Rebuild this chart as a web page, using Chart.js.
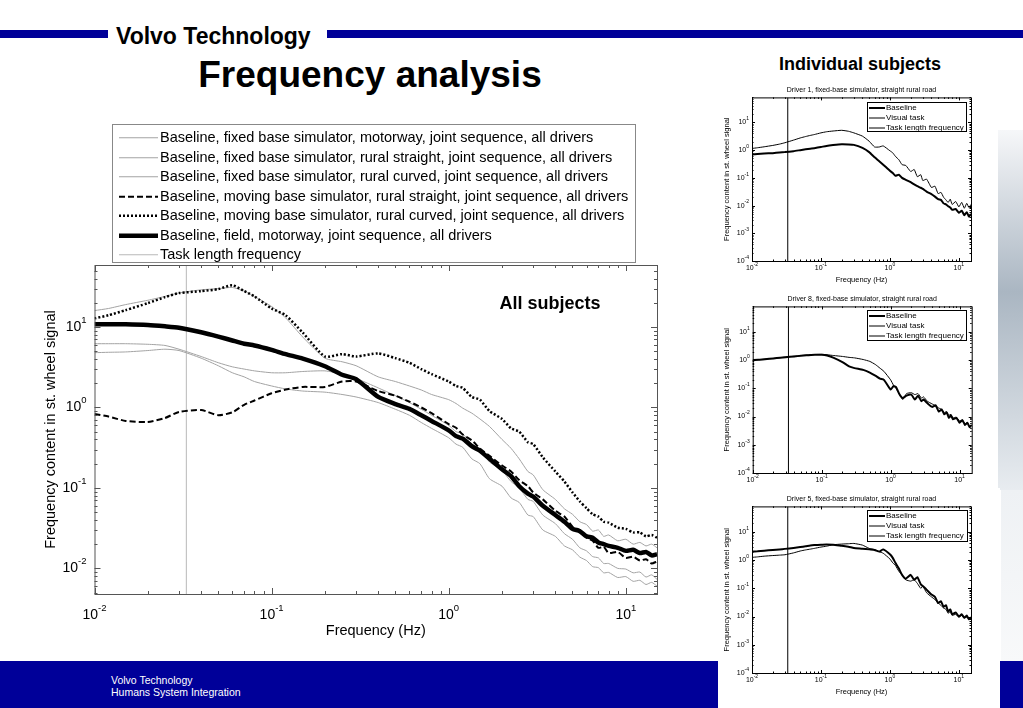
<!DOCTYPE html>
<html>
<head>
<meta charset="utf-8">
<script src="https://cdn.jsdelivr.net/npm/chart.js@4.4.0/dist/chart.umd.min.js"></script>
<style>
body { margin:0; width:1023px; height:708px; position:relative; overflow:hidden; background:#fff; font-family:"Liberation Sans", Arial, sans-serif; }
.abs { position:absolute; }
canvas { position:absolute; }
.legend { position:absolute; background:#fff; box-sizing:border-box; will-change:transform; }
.legend .row { position:relative; white-space:nowrap; }
.legend svg { position:absolute; }
</style>
</head>
<body>
<!-- header -->
<div class="abs" style="left:0;top:30px;width:108px;height:8px;background:#000099"></div>
<div class="abs" style="left:327px;top:30px;width:696px;height:8px;background:#000099"></div>
<div class="abs" style="left:116px;top:25px;font-size:23px;line-height:23px;font-weight:bold;">Volvo Technology</div>
<div class="abs" style="left:170px;top:56px;width:400px;text-align:center;font-size:37px;line-height:37px;font-weight:bold;">Frequency analysis</div>
<div class="abs" style="left:760px;top:55px;width:200px;text-align:center;font-size:18px;line-height:18px;font-weight:bold;">Individual subjects</div>

<!-- right decoration -->
<div class="abs" style="left:998px;top:130px;width:25px;height:360px;background:linear-gradient(to bottom,#f6f7f9 0%,#aab6c2 45%,#e8ecf0 100%)"></div>
<div class="abs" style="left:1001px;top:490px;width:22px;height:172px;background:linear-gradient(to bottom,#eef1f4 0%,#f8f9fa 100%)"></div>

<!-- footer -->
<div class="abs" style="left:0;top:661px;width:1023px;height:47px;background:#000099"></div>
<div class="abs" style="left:111px;top:674px;color:#fff;font-size:10.5px;line-height:12px;">Volvo Technology<br>Humans System Integration</div>

<!-- main chart -->
<canvas id="mainChart" width="635" height="395" style="left:30px;top:255px"></canvas>
<div id="mainLegend" class="legend" style="left:112px;top:124px;width:524px;height:139px;border:1px solid #888;padding-top:3px;"></div>
<div class="abs" style="left:480px;top:294px;width:140px;text-align:center;font-size:18px;line-height:18px;font-weight:bold;">All subjects</div>

<!-- individual charts -->
<div class="abs" style="left:718px;top:78px;width:262px;height:210px;background:#fff"></div>
<canvas id="driver1" width="256" height="204" style="left:720px;top:82px"></canvas>
<div id="legend1" class="legend" style="left:867px;top:102px;width:100px;height:30px;border:1.5px solid #000;"></div>

<div class="abs" style="left:718px;top:288px;width:262px;height:200px;background:#fff"></div>
<canvas id="driver8" width="256" height="207" style="left:720px;top:291px"></canvas>
<div id="legend2" class="legend" style="left:867px;top:310px;width:100px;height:31px;border:1.5px solid #000;"></div>

<div class="abs" style="left:718px;top:488px;width:282px;height:220px;background:#fff"></div>
<canvas id="driver5" width="256" height="207" style="left:720px;top:491px"></canvas>
<div id="legend3" class="legend" style="left:867px;top:510px;width:101px;height:32px;border:1.5px solid #000;"></div>

<script>
// frequency grid (Hz)
const freqs = [0.01, 0.012, 0.015, 0.02, 0.025, 0.03, 0.04, 0.05, 0.06, 0.07, 0.08, 0.1,
  0.12, 0.15, 0.2, 0.25, 0.3, 0.4, 0.5, 0.6, 0.7, 0.8,
  1, 1.1, 1.2, 1.35, 1.5, 1.7, 2, 2.25, 2.5, 2.8, 3, 3.4,
  4, 4.5, 5, 5.5, 6, 6.5, 7, 7.5, 8, 9, 10, 11, 12, 13, 14, 15];

// all subjects
const mainLabels = [
  'Baseline, fixed base simulator, motorway, joint sequence, all drivers',
  'Baseline, fixed base simulator, rural straight, joint sequence, all drivers',
  'Baseline, fixed base simulator, rural curved, joint sequence, all drivers',
  'Baseline, moving base simulator, rural straight, joint sequence, all drivers',
  'Baseline, moving base simulator, rural curved, joint sequence, all drivers',
  'Baseline, field, motorway, joint sequence, all drivers',
  'Task length frequency'
];
const fixedMotorway = [16, 17, 19, 21.5, 24, 26.5, 29, 30, 31, 28, 24, 18,
  13, 7.5, 4.1, 3.7, 3.3, 2.4, 2.1, 1.85, 1.65, 1.45,
  1.25, 1.12, 0.98, 0.85, 0.72, 0.58, 0.4, 0.31, 0.23, 0.16, 0.145, 0.095,
  0.072, 0.055, 0.047, 0.038, 0.035, 0.029, 0.03, 0.025, 0.026, 0.022, 0.023, 0.02, 0.021, 0.019, 0.02, 0.018];
const fixedStraight = [6.2, 6.2, 6.2, 6.1, 5.9, 5.3, 4.3, 3.6, 3.2, 3.0, 2.85, 2.7,
  2.7, 2.8, 2.85, 2.6, 2.3, 1.75, 1.4, 1.15, 0.95, 0.8,
  0.6, 0.5, 0.47, 0.35, 0.31, 0.21, 0.165, 0.12, 0.1, 0.072, 0.068, 0.046,
  0.036, 0.027, 0.023, 0.018, 0.0165, 0.014, 0.0135, 0.0115, 0.0115, 0.01, 0.0098, 0.0088, 0.009, 0.0078, 0.0083, 0.0073];
const fixedCurved = [4.8, 4.85, 4.9, 5.1, 5.3, 5.1, 4.1, 3.3, 2.7, 2.4, 2.1, 1.85,
  1.7, 1.6, 1.55, 1.45, 1.35, 1.15, 0.95, 0.8, 0.65, 0.55,
  0.42, 0.35, 0.32, 0.23, 0.2, 0.13, 0.105, 0.075, 0.066, 0.046, 0.044, 0.03,
  0.025, 0.019, 0.017, 0.0138, 0.0125, 0.0105, 0.0102, 0.0088, 0.0089, 0.0077, 0.0079, 0.0069, 0.0071, 0.0063, 0.0067, 0.006];
const movingStraight = [0.83, 0.77, 0.68, 0.66, 0.74, 0.88, 0.93, 0.80, 0.87, 1.08, 1.22, 1.5,
  1.67, 1.8, 1.8, 2.1, 2.1, 1.6, 1.4, 1.18, 1.0, 0.85,
  0.62, 0.56, 0.46, 0.39, 0.31, 0.25, 0.19, 0.16, 0.125, 0.105, 0.088, 0.072,
  0.052, 0.044, 0.033, 0.03, 0.024, 0.022, 0.018, 0.0185, 0.0155, 0.016, 0.0135, 0.014, 0.0125, 0.013, 0.0115, 0.0122];
const movingCurved = [12.8, 14, 16.2, 19.8, 23.5, 26.4, 27.9, 29.6, 33, 28, 24, 17,
  14, 8.5, 4.3, 4.6, 4.3, 4.7, 4.1, 3.6, 3.0, 2.6,
  2.1, 1.85, 1.75, 1.35, 1.25, 0.9, 0.72, 0.55, 0.5, 0.37, 0.35, 0.24,
  0.16, 0.12, 0.088, 0.068, 0.056, 0.047, 0.044, 0.038, 0.037, 0.032, 0.031, 0.028, 0.028, 0.025, 0.026, 0.024];
const fieldMotorway = [10.8, 10.8, 10.8, 10.6, 10.2, 9.8, 8.6, 7.6, 6.8, 6.2, 5.9, 5.2,
  4.6, 4.05, 3.25, 2.55, 2.25, 1.35, 1.1, 0.96, 0.8, 0.68,
  0.52, 0.44, 0.41, 0.33, 0.29, 0.23, 0.17, 0.14, 0.105, 0.085, 0.078, 0.06,
  0.046, 0.038, 0.031, 0.029, 0.025, 0.024, 0.021, 0.02, 0.019, 0.018, 0.0165, 0.017, 0.0155, 0.016, 0.0145, 0.015];
const taskFreq = 0.033;

// individual subjects
const smallLabels = ['Baseline', 'Visual task', 'Task length frequency'];
const driver1Baseline = [0.70, 0.72, 0.75, 0.78, 0.82, 0.85, 0.92, 1.0, 1.07, 1.13, 1.18, 1.3,
  1.42, 1.52, 1.62, 1.6, 1.55, 1.2, 0.85, 0.55, 0.4, 0.3,
  0.18, 0.15, 0.12, 0.13, 0.1, 0.085, 0.07, 0.058, 0.05, 0.044, 0.04, 0.032,
  0.026, 0.021, 0.017, 0.016, 0.012, 0.011, 0.0095, 0.0085, 0.007, 0.0075, 0.0055, 0.0065, 0.0045, 0.0058, 0.004, 0.005];
const driver1Visual = [1.15, 1.22, 1.32, 1.48, 1.65, 1.85, 2.3, 2.75, 3.1, 3.4, 3.65, 4.2,
  4.6, 4.9, 5.2, 4.8, 4.2, 3.2, 2.1, 1.3, 1.3, 1.42,
  0.95, 0.8, 0.6, 0.45, 0.3, 0.28, 0.17, 0.2, 0.11, 0.13, 0.08, 0.09,
  0.045, 0.05, 0.027, 0.03, 0.02, 0.016, 0.013, 0.017, 0.011, 0.014, 0.009, 0.013, 0.008, 0.012, 0.0085, 0.011];
const driver8Baseline = [1.0, 1.02, 1.08, 1.15, 1.22, 1.27, 1.35, 1.42, 1.48, 1.52, 1.55, 1.55,
  1.45, 1.2, 0.85, 0.6, 0.52, 0.45, 0.36, 0.28, 0.22, 0.2,
  0.09, 0.12, 0.11, 0.06, 0.045, 0.055, 0.06, 0.04, 0.055, 0.035, 0.04, 0.03,
  0.022, 0.025, 0.015, 0.018, 0.012, 0.014, 0.009, 0.011, 0.008, 0.009, 0.006, 0.0075, 0.005, 0.006, 0.0042, 0.005];
const driver8Visual = [1.0, 1.03, 1.08, 1.15, 1.22, 1.28, 1.37, 1.45, 1.5, 1.55, 1.58, 1.6,
  1.55, 1.45, 1.35, 1.25, 1.2, 1.05, 0.9, 0.7, 0.52, 0.4,
  0.2, 0.13, 0.1, 0.06, 0.04, 0.065, 0.07, 0.06, 0.065, 0.045, 0.05, 0.035,
  0.028, 0.024, 0.02, 0.018, 0.014, 0.015, 0.011, 0.012, 0.009, 0.0095, 0.007, 0.0075, 0.0055, 0.006, 0.0045, 0.005];
const driver5Baseline = [2.0, 2.05, 2.15, 2.3, 2.4, 2.5, 2.7, 2.9, 3.1, 3.3, 3.4, 3.5,
  3.6, 3.5, 3.2, 3.0, 2.7, 2.55, 2.4, 2.3, 2.0, 2.4,
  1.6, 1.2, 0.8, 0.5, 0.3, 0.22, 0.3, 0.2, 0.25, 0.14, 0.12, 0.09,
  0.06, 0.05, 0.03, 0.035, 0.022, 0.025, 0.015, 0.018, 0.012, 0.014, 0.01, 0.012, 0.009, 0.011, 0.008, 0.0095];
const driver5Visual = [1.25, 1.3, 1.38, 1.45, 1.5, 1.55, 1.8, 2.1, 2.3, 2.45, 2.6, 2.9,
  3.1, 3.5, 3.7, 3.8, 3.9, 3.4, 2.6, 2.35, 2.0, 1.75,
  1.1, 0.8, 0.65, 0.4, 0.3, 0.2, 0.18, 0.2, 0.15, 0.1, 0.12, 0.07,
  0.05, 0.04, 0.03, 0.025, 0.02, 0.018, 0.013, 0.015, 0.011, 0.012, 0.0095, 0.011, 0.009, 0.0095, 0.008, 0.009];

const FONT = '"Liberation Sans", Arial, sans-serif';

function pts(vals) {
  return freqs.map((f, i) => ({x: f, y: vals[i]}));
}

// decades and the 2..9 steps between them that fall inside a log axis
function logSteps(scale) {
  const out = [];
  const lo = Math.floor(Math.log10(scale.min)), hi = Math.ceil(Math.log10(scale.max));
  for (let e = lo; e <= hi; e++) {
    for (let m = 1; m < 10; m++) {
      const v = m * Math.pow(10, e);
      if (v >= scale.min * 0.999 && v <= scale.max * 1.001) out.push([v, m === 1]);
    }
  }
  return out;
}
function decadeTicks(scale) {
  scale.ticks = logSteps(scale).filter(s => s[1]).map(s => ({value: s[0]}));
}

// matlab style box with inward ticks on all sides
const frameTicks = {
  id: 'frameTicks',
  afterDatasetsDraw(chart, args, o) {
    const {ctx, chartArea: a} = chart;
    const xs = chart.scales.x, ys = chart.scales.y;
    ctx.save();
    ctx.strokeStyle = o.color;
    ctx.lineWidth = o.width;
    ctx.beginPath();
    logSteps(xs).forEach(([v, major]) => {
      const p = Math.round(xs.getPixelForValue(v)) + 0.5;
      const l = major ? o.major : o.minor;
      ctx.moveTo(p, a.bottom); ctx.lineTo(p, a.bottom - l);
      ctx.moveTo(p, a.top); ctx.lineTo(p, a.top + l);
    });
    logSteps(ys).forEach(([v, major]) => {
      const p = Math.round(ys.getPixelForValue(v)) + 0.5;
      const l = major ? o.major : o.minor;
      ctx.moveTo(a.left, p); ctx.lineTo(a.left + l, p);
      ctx.moveTo(a.right, p); ctx.lineTo(a.right - l, p);
    });
    ctx.stroke();
    ctx.strokeRect(a.left + 0.5, a.top + 0.5, a.right - a.left, a.bottom - a.top);
    ctx.restore();
  }
};

// tick labels written as 10 with a raised exponent
const powerLabels = {
  id: 'powerLabels',
  afterDraw(chart, args, o) {
    const {ctx, chartArea: a} = chart;
    ctx.save();
    ctx.fillStyle = '#000';
    ctx.textBaseline = 'middle';
    ctx.textAlign = 'left';
    const put = (v, cx, cy, mode) => {
      const exp = String(Math.round(Math.log10(v)));
      ctx.font = o.size + 'px ' + FONT;
      const w1 = ctx.measureText('10').width;
      ctx.font = o.expSize + 'px ' + FONT;
      const w2 = ctx.measureText(exp).width;
      const x0 = mode === 'center' ? cx - (w1 + w2) / 2 : cx - w1 - w2;
      ctx.font = o.size + 'px ' + FONT;
      ctx.fillText('10', x0, cy);
      ctx.font = o.expSize + 'px ' + FONT;
      ctx.fillText(exp, x0 + w1, cy - o.raise);
    };
    chart.scales.x.ticks.forEach(t => put(t.value, chart.scales.x.getPixelForValue(t.value), a.bottom + o.xGap, 'center'));
    chart.scales.y.ticks.forEach(t => put(t.value, a.left - o.yGap, chart.scales.y.getPixelForValue(t.value), 'right'));
    ctx.restore();
  }
};

function buildLegend(el, datasets, rowH, fontSize, sample) {
  datasets.forEach(ds => {
    const row = document.createElement('div');
    row.className = 'row';
    row.style.height = rowH + 'px';
    row.style.lineHeight = rowH + 'px';
    row.style.fontSize = fontSize + 'px';
    row.style.paddingLeft = sample.text + 'px';
    const dash = ds.borderDash ? ds.borderDash.join(' ') : 'none';
    row.innerHTML = '<svg width="' + sample.w + '" height="' + rowH + '" style="left:' + sample.x + 'px;top:0">' +
      '<line x1="0" y1="' + (rowH / 2) + '" x2="' + sample.w + '" y2="' + (rowH / 2) + '" stroke="' + ds.borderColor +
      '" stroke-width="' + ds.borderWidth + '" stroke-dasharray="' + dash + '"/></svg>';
    row.appendChild(document.createTextNode(ds.label));
    el.appendChild(row);
  });
}

// ---------- all subjects ----------
const mainX = {min: 0.01, max: 15};
const mainY = {min: 0.0048, max: 59};
const mainSets = [
  {label: mainLabels[0], data: pts(fixedMotorway), borderColor: '#a3a3a3', borderWidth: 1, order: 5},
  {label: mainLabels[1], data: pts(fixedStraight), borderColor: '#a3a3a3', borderWidth: 1, order: 5},
  {label: mainLabels[2], data: pts(fixedCurved), borderColor: '#a3a3a3', borderWidth: 1, order: 5},
  {label: mainLabels[3], data: pts(movingStraight), borderColor: '#000', borderWidth: 2, borderDash: [6, 3], order: 2},
  {label: mainLabels[4], data: pts(movingCurved), borderColor: '#000', borderWidth: 2.5, borderDash: [2, 2], order: 3},
  {label: mainLabels[5], data: pts(fieldMotorway), borderColor: '#000', borderWidth: 4.5, order: 1},
  {label: mainLabels[6], data: [{x: taskFreq, y: mainY.min}, {x: taskFreq, y: mainY.max}],
    borderColor: '#b8b8b8', borderWidth: 1, tension: 0, order: 6}
];

new Chart(document.getElementById('mainChart'), {
  type: 'line',
  data: {datasets: mainSets},
  options: {
    responsive: false,
    animation: false,
    layout: {padding: {top: 10, right: 8}},
    elements: {point: {radius: 0}, line: {tension: 0.2}},
    plugins: {
      legend: {display: false},
      tooltip: {enabled: false},
      frameTicks: {color: '#555', width: 1, major: 6, minor: 3},
      powerLabels: {size: 14, expSize: 9.5, raise: 7, xGap: 21, yGap: 8}
    },
    scales: {
      x: {
        type: 'logarithmic', min: mainX.min, max: mainX.max,
        grid: {display: false}, border: {display: false}, ticks: {display: false},
        afterBuildTicks: decadeTicks,
        afterFit: s => { s.height = 56; },
        title: {display: true, text: 'Frequency (Hz)', color: '#000', font: {family: FONT, size: 14.5}, padding: {top: 0, bottom: 10}}
      },
      y: {
        type: 'logarithmic', min: mainY.min, max: mainY.max,
        grid: {display: false}, border: {display: false}, ticks: {display: false},
        afterBuildTicks: decadeTicks,
        afterFit: s => { s.width = 64.5; },
        title: {display: true, text: 'Frequency content in st. wheel signal', color: '#000', font: {family: FONT, size: 14.5}, padding: {top: 12, bottom: 0}}
      }
    }
  },
  plugins: [frameTicks, powerLabels]
});
buildLegend(document.getElementById('mainLegend'), mainSets, 19.5, 14.5, {x: 6, w: 39, text: 47});

// ---------- individual subjects ----------
function smallChart(id, legendId, title, baseline, visual, axisW) {
  const yr = {min: 0.0001, max: 80};
  const sets = [
    {label: smallLabels[0], data: pts(baseline), borderColor: '#000', borderWidth: 2, order: 1},
    {label: smallLabels[1], data: pts(visual), borderColor: '#000', borderWidth: 1, order: 2},
    {label: smallLabels[2], data: [{x: taskFreq, y: yr.min}, {x: taskFreq, y: yr.max}],
      borderColor: '#000', borderWidth: 1, tension: 0, order: 3}
  ];
  new Chart(document.getElementById(id), {
    type: 'line',
    data: {datasets: sets},
    options: {
      responsive: false,
      animation: false,
      layout: {padding: {right: 256 - axisW - 219}},
      elements: {point: {radius: 0}, line: {tension: 0.15}},
      plugins: {
        legend: {display: false},
        tooltip: {enabled: false},
        title: {display: true, text: title, fullSize: false, color: '#000', font: {family: FONT, size: 7, weight: 'normal'}, padding: {top: 4, bottom: 3}},
        frameTicks: {color: '#000', width: 1, major: 3, minor: 1.5},
        powerLabels: {size: 7, expSize: 5, raise: 3.5, xGap: 7, yGap: 3}
      },
      scales: {
        x: {
          type: 'logarithmic', min: 0.01, max: 15,
          grid: {display: false}, border: {display: false}, ticks: {display: false},
          afterBuildTicks: decadeTicks,
          afterFit: s => { s.height = 25; },
          title: {display: true, text: 'Frequency (Hz)', color: '#000', font: {family: FONT, size: 7.5}, padding: {top: 0, bottom: 1.5}}
        },
        y: {
          type: 'logarithmic', min: yr.min, max: yr.max,
          grid: {display: false}, border: {display: false}, ticks: {display: false},
          afterBuildTicks: decadeTicks,
          afterFit: s => { s.width = axisW; },
          title: {display: true, text: 'Frequency content in st. wheel signal', color: '#000', font: {family: FONT, size: 7.5}, padding: {top: 2.5, bottom: 0}}
        }
      }
    },
    plugins: [frameTicks, powerLabels]
  });
  buildLegend(document.getElementById(legendId), sets, 10, 8, {x: 1, w: 16, text: 18});
}

smallChart('driver1', 'legend1', 'Driver 1, fixed-base simulator, straight rural road', driver1Baseline, driver1Visual, 32);
smallChart('driver8', 'legend2', 'Driver 8, fixed-base simulator, straight rural road', driver8Baseline, driver8Visual, 32.7);
smallChart('driver5', 'legend3', 'Driver 5, fixed-base simulator, straight rural road', driver5Baseline, driver5Visual, 32);
</script>
</body>
</html>
